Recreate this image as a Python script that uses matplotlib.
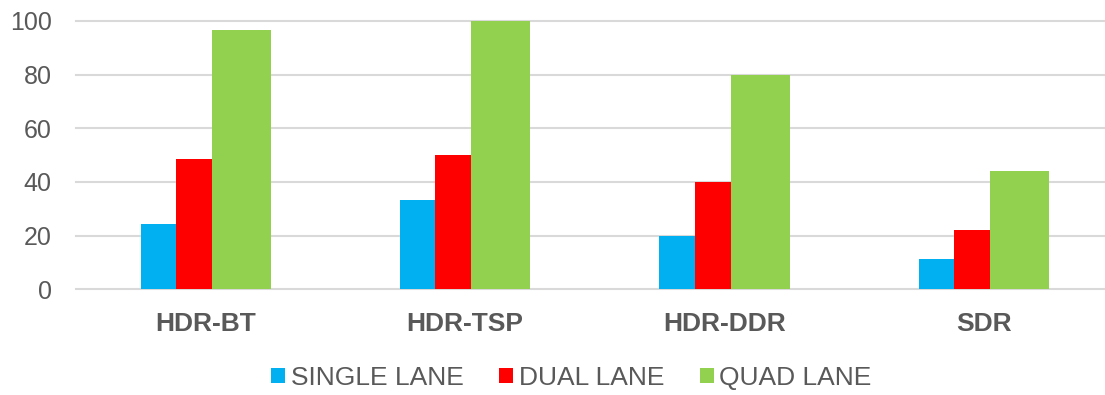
import numpy as np
import matplotlib.pyplot as plt
from matplotlib.patches import Rectangle

plt.rcParams['font.family'] = ['Liberation Sans', 'DejaVu Sans']

# 数据
categories = ['HDR-BT', 'HDR-TSP', 'HDR-DDR', 'SDR']
series_names = ['SINGLE LANE', 'DUAL LANE', 'QUAD LANE']
single_lane = [24.2, 33.2, 20, 11.2]
dual_lane = [48.4, 50, 40, 22.2]
quad_lane = [96.7, 100, 80, 44.1]
y_ticks = [0, 20, 40, 60, 80, 100]

colors = ['#00B0F0', '#FF0000', '#92D050']
text_color = '#595959'
grid_color = '#D9D9D9'

# 每组内柱子的左边界偏移和宽度(单位:类别间距)
left_offsets = [-0.2506, -0.1145, 0.0243]
widths = [0.1361, 0.1388, 0.2263]

fig = plt.figure(figsize=(11.05, 3.95), dpi=100)
W, H = 1105, 395
ax = fig.add_axes([76 / W, (H - 289.3) / H, (W - 76) / W, (289.3 - 21) / H])

x = np.arange(len(categories))
handles = []
for vals, off, w, c, name in zip([single_lane, dual_lane, quad_lane],
                                 left_offsets, widths, colors, series_names):
    ax.bar(x + off, vals, width=w, align='edge', color=c, zorder=3)
    handles.append(Rectangle((0, 0), 1, 1, facecolor=c, label=name))

ax.set_xlim(-0.5, -0.5 + (W - 76) / 259.4)
ax.set_ylim(0, 100)
ax.set_yticks(y_ticks)
ax.set_xticks(x)
ax.set_xticklabels(categories, fontsize=19, fontweight='bold', color=text_color)
ax.tick_params(axis='x', length=0, pad=16)
ax.tick_params(axis='y', length=0, pad=17.5, labelsize=18, labelcolor=text_color)

for y in y_ticks:
    ax.axhline(y, color=grid_color, lw=1.5, zorder=1, clip_on=False)
for s in ax.spines.values():
    s.set_visible(False)

fig.legend(handles=handles, loc='center', bbox_to_anchor=(571.5 / W, 17 / H),
           ncol=3, frameon=False, fontsize=19, handlelength=0.53, handleheight=0.53,
           handletextpad=0.2, columnspacing=1.36, labelcolor=text_color,
           borderpad=0, borderaxespad=0)

fig.savefig('out.png', dpi=100)
